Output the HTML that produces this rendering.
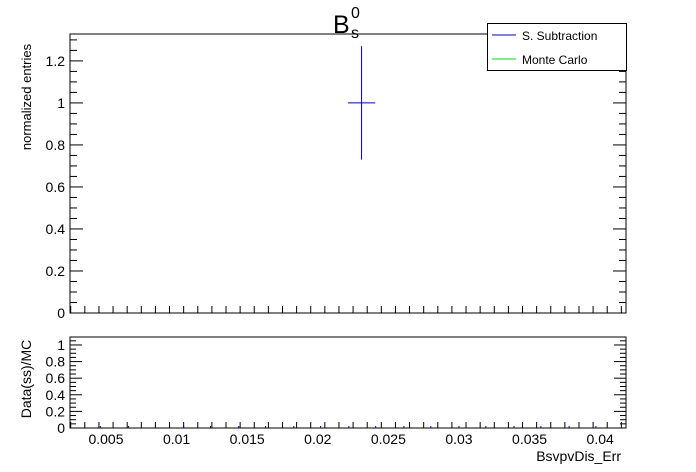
<!DOCTYPE html>
<html><head><meta charset="utf-8"><style>
body{margin:0;background:#fff}
svg{display:block;font-family:"Liberation Sans",sans-serif}
</style></head><body>
<svg id="c" width="696" height="472" xmlns="http://www.w3.org/2000/svg"></svg>
<script>
const xTicks=[0.005,0.01,0.015,0.02,0.025,0.03,0.035,0.04];
const xTickLabels=["0.005","0.01","0.015","0.02","0.025","0.03","0.035","0.04"];
const yTicksTop=[0,0.2,0.4,0.6,0.8,1,1.2];
const yTickLabelsTop=["0","0.2","0.4","0.6","0.8","1","1.2"];
const yTicksBot=[0,0.2,0.4,0.6,0.8,1];
const yTickLabelsBot=["0","0.2","0.4","0.6","0.8","1"];
const binCenters=[0.0231];
const binHalfWidth=[0.00097];
const dataValues=[1.0];
const dataErrors=[0.27];
const ratioBins=[0.0046,0.0066,0.0085,0.0105,0.0124,0.0144,0.0163,0.0183,0.0202,0.0222,0.0241,0.0261,0.028,0.03,0.0319,0.0339,0.0358,0.0378,0.0397];

const svg=document.getElementById('c');
const NS='http://www.w3.org/2000/svg';
function el(t,a,txt){const e=document.createElementNS(NS,t);for(const k in a)e.setAttribute(k,a[k]);if(txt!==undefined)e.textContent=txt;svg.appendChild(e);return e;}
const X0=70,X1=626,XMIN=0.00245,XMAX=0.04183;
const xs=v=>X0+(v-XMIN)/(XMAX-XMIN)*(X1-X0);
const T0=313,T1=34,TMAX=1.328;
const yt=v=>T0-v/TMAX*(T0-T1);
const B0=428,B1=337,BMAX=1.096;
const yb=v=>B0-v/BMAX*(B0-B1);

function frame(y0,y1,name){
  const r=el('rect',{x:X0,y:y1,width:X1-X0,height:y0-y1,fill:'none',stroke:'#000','stroke-width':1});
  
  
}
frame(T0,T1,'top-plot-frame');
frame(B0,B1,'ratio-plot-frame');

function xAxisTicks(y0,maj,mn){
  for(let v=0.0025;v<=XMAX+1e-9;v+=0.001){
    const vv=Math.round(v*10000)/10000;
    if(vv<XMIN)continue;
    const major=Math.abs(vv/0.005-Math.round(vv/0.005))<1e-6;
    const l=major?maj:mn;
    const t=el('line',{x1:xs(vv),x2:xs(vv),y1:y0,y2:y0-l,stroke:'#000'});
    
    
  }
}
xAxisTicks(T0,13,7);
xAxisTicks(B0,12,6);

function yAxisTicks(ys,max,maj,mn,name){
  for(let i=0;i*0.05<=max+1e-9;i++){
    const v=i*0.05;const major=i%4===0;const l=major?maj:mn;
    const a=el('line',{x1:X0,x2:X0+l,y1:ys(v),y2:ys(v),stroke:'#000'});
    
    
    const b=el('line',{x1:X1,x2:X1-l,y1:ys(v),y2:ys(v),stroke:'#000'});
    
    
  }
}
yAxisTicks(yt,TMAX,13,7,'y-top');
yAxisTicks(yb,BMAX,12,6,'y-ratio');

yTicksTop.forEach((v,i)=>{
  const t=el('text',{x:65,y:yt(v)+5,'text-anchor':'end','font-size':14},yTickLabelsTop[i]);
  
  
});
yTicksBot.forEach((v,i)=>{
  const t=el('text',{x:65,y:yb(v)+5,'text-anchor':'end','font-size':14},yTickLabelsBot[i]);
  
  
});
xTicks.forEach((v,i)=>{
  const t=el('text',{x:xs(v),y:444,'text-anchor':'middle','font-size':14},xTickLabels[i]);
  
  
});

binCenters.forEach((c,i)=>{
  const h=el('line',{x1:xs(c-binHalfWidth[i]),x2:xs(c+binHalfWidth[i]),y1:yt(dataValues[i]),y2:yt(dataValues[i]),stroke:'#0000cc'});
  
  
  const v=el('line',{x1:xs(c),x2:xs(c),y1:yt(dataValues[i]-dataErrors[i]),y2:yt(dataValues[i]+dataErrors[i]),stroke:'#0000cc'});
  
  
});
ratioBins.forEach(c=>{
  const m=el('line',{x1:xs(c),x2:xs(c),y1:B0,y2:B0-2,stroke:'#0000cc'});
  
  
});

const ti=el('text',{x:333,y:33,'font-size':25},'B');


const ts=el('text',{x:351,y:38,'font-size':16},'s');


const tp=el('text',{x:351,y:18,'font-size':16},'0');



const yl=el('text',{x:0,y:0,'font-size':13,'text-anchor':'middle',transform:'translate(31,97) rotate(-90)'},'normalized entries');


const yl2=el('text',{x:0,y:0,'font-size':14,'text-anchor':'middle',transform:'translate(31,379) rotate(-90)'},'Data(ss)/MC');


const xl=el('text',{x:621,y:461,'font-size':14,'text-anchor':'end'},'BsvpvDis_Err');



const lg=el('rect',{x:487.5,y:23.5,width:139,height:47,fill:'#fff',stroke:'#000'});


const l1=el('line',{x1:492,x2:516,y1:35,y2:35,stroke:'#0000cc'});


const t1=el('text',{x:522,y:40,'font-size':12},'S. Subtraction');


const l2=el('line',{x1:492,x2:516,y1:59,y2:59,stroke:'#00dd00'});


const t2=el('text',{x:522,y:64,'font-size':12},'Monte Carlo');


</script>
</body></html>
